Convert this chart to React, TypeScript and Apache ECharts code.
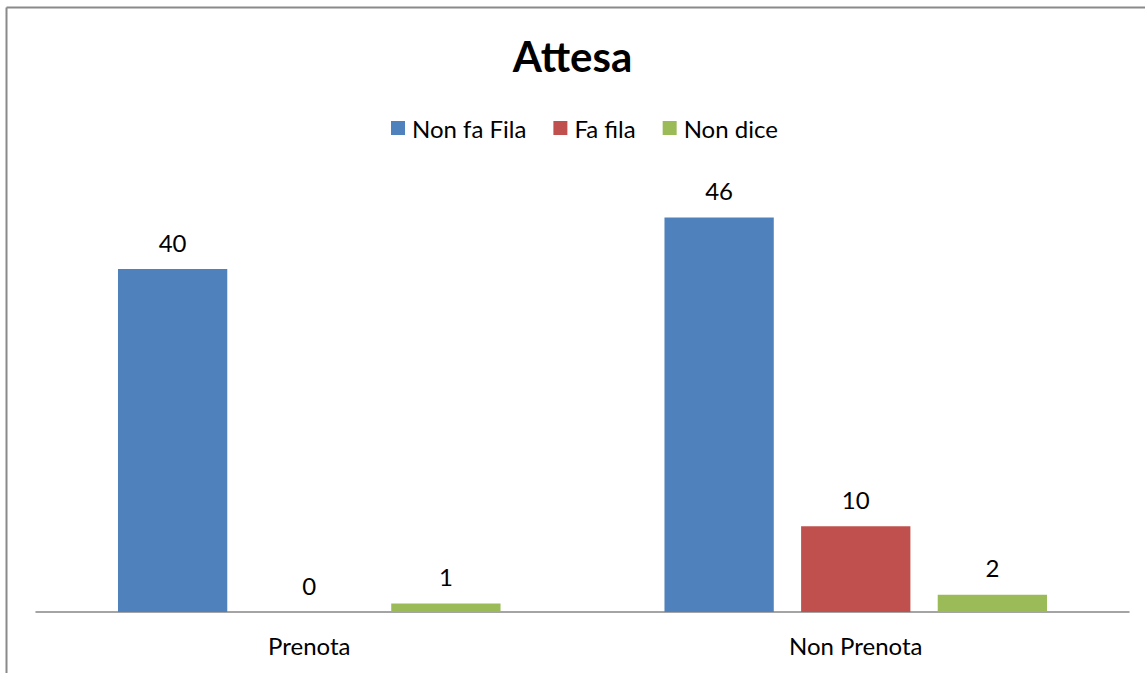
import React, { useEffect, useRef } from "react";
import * as echarts from "echarts";

const categories = ["Prenota", "Non Prenota"];
const seriesNames = ["Non fa Fila", "Fa fila", "Non dice"];
const nonFaFila = [40, 46];
const faFila = [0, 10];
const nonDice = [1, 2];
const colors = ["#4F81BD", "#C0504D", "#9BBB59"];

const FONT = "Lato, 'Open Sans', sans-serif";

export default function App() {
  const ref = useRef<HTMLDivElement>(null);
  useEffect(() => {
    if (!ref.current) return;
    const chart = echarts.init(ref.current, undefined, { renderer: "svg" });
    const values = [nonFaFila, faFila, nonDice];
    chart.setOption({
      animation: false,
      backgroundColor: "#ffffff",
      textStyle: { fontFamily: FONT },
      title: {
        text: "Attesa",
        left: "center",
        top: 30,
        textStyle: { fontSize: 42, fontWeight: "bold", color: "#000", fontFamily: FONT },
      },
      legend: {
        top: 111,
        left: 386,
        itemWidth: 14,
        itemHeight: 14,
        itemGap: 27,
        icon: "rect",
        textStyle: { fontSize: 24, color: "#000", fontFamily: FONT, padding: [0, 0, 0, 2] },
        data: seriesNames,
      },
      graphic: [
        { type: "line", shape: { x1: 6.5, y1: 7.5, x2: 1145, y2: 7.5 }, style: { stroke: "#8a8a8a", lineWidth: 2 } },
        { type: "line", shape: { x1: 6.5, y1: 7.5, x2: 6.5, y2: 673 }, style: { stroke: "#8a8a8a", lineWidth: 2 } },
      ],
      grid: { left: 36, right: 16, top: 183.25, bottom: 61 },
      xAxis: {
        type: "category",
        data: categories,
        axisLine: { lineStyle: { color: "#868686", width: 1.5 } },
        axisTick: { show: false },
        axisLabel: { fontSize: 24, color: "#000", margin: 21, fontFamily: FONT },
      },
      yAxis: {
        type: "value",
        min: 0,
        max: 50,
        show: false,
        splitLine: { show: false },
      },
      series: seriesNames.map((name, i) => ({
        name,
        type: "bar",
        data: values[i],
        barWidth: "20%",
        barGap: "25%",
        itemStyle: { color: colors[i] },
        label: {
          show: true,
          position: "top",
          distance: 15,
          fontSize: 24,
          color: "#000",
          fontFamily: FONT,
        },
      })),
    });
    return () => chart.dispose();
  }, []);
  return (
    <div
      ref={ref}
      style={{ position: "fixed", left: 0, top: 0, width: 1145, height: 673 }}
    />
  );
}
